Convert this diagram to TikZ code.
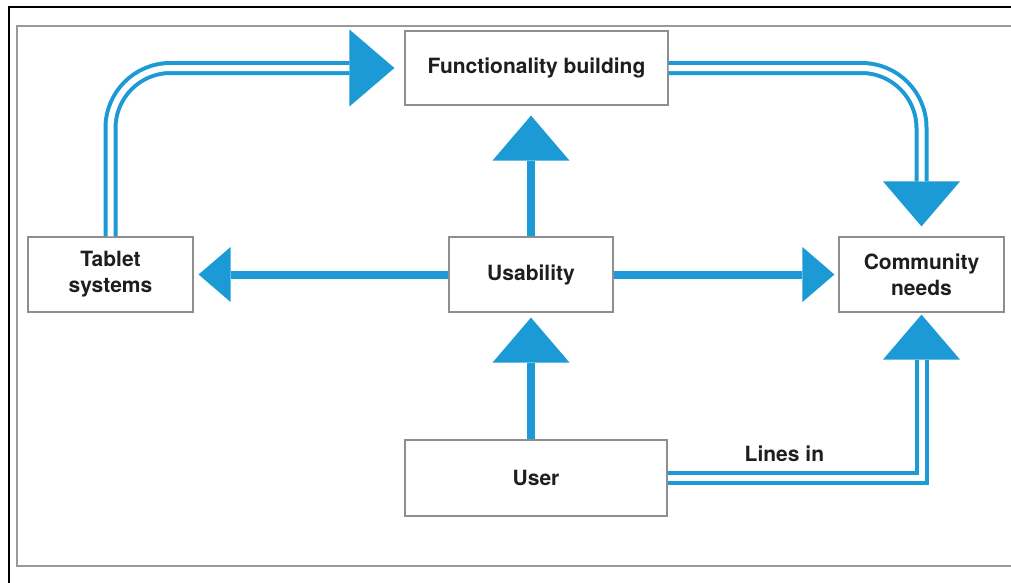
\documentclass[tikz,border=0pt]{standalone}
\usepackage{fontspec}
\setmainfont{TeX Gyre Heros}
\usetikzlibrary{arrows.meta}
\definecolor{flowblue}{HTML}{1C9AD6}
\definecolor{boxline}{HTML}{8E8E8E}
\definecolor{framegray}{HTML}{9A9A9A}
\definecolor{labeltext}{HTML}{1E1E1E}
\begin{document}
\begin{tikzpicture}[x=1pt, y=-1pt,
  box/.style={draw=boxline, line width=1.2pt, fill=white, align=center, inner sep=0pt,
    text=labeltext, font=\bfseries\fontsize{21}{26}\selectfont},
  single/.style={draw=flowblue, line width=8pt},
  guide/.style={draw=flowblue, line width=1pt},
  twin/.style={draw=flowblue, line width=4pt, double=white, double distance=6pt},
  bighead/.style={-{Triangle[width=77pt, length=45pt, line width=0pt]}},
  smallhead/.style={-{Triangle[width=55pt, length=32pt, line width=0pt]}},
  tag/.style={text=labeltext, inner sep=0pt, font=\bfseries\fontsize{21}{26}\selectfont},
]
\useasboundingbox (0,0) rectangle (1011,582);
\clip (0,0) rectangle (1011,582);
\fill[white] (0,0) rectangle (1011,582);

% page frames
\draw[black, line width=2pt] (9,590) -- (9,6.5) -- (1020,6.5);
\draw[framegray, line width=2pt] (1020,26) -- (16.5,26) -- (16.5,566) -- (1020,566);

% boxes
\node[box, minimum width=263pt, minimum height=74pt] (fb)  at (536.5,68)  {Functionality building};
\node[box, minimum width=165pt, minimum height=75pt] (tab) at (110.5,274.5) {Tablet\\systems};
\node[box, minimum width=164pt, minimum height=75pt] (use) at (531,274.5)   {Usability};
\node[box, minimum width=165pt, minimum height=75pt] (com) at (921.5,274.5) {Community\\needs};
\node[box, minimum width=262pt, minimum height=76pt] (usr) at (536,478)     {User};

% double-line connectors: tip drawn on a guide path, twin line laid over it
\draw[guide, bighead, shorten >=10pt, rounded corners=60pt] (tab.north) |- (fb.west);
\draw[twin, shorten >=55pt, rounded corners=60pt] (tab.north) |- (fb.west);

\draw[guide, bighead, shorten >=10pt, rounded corners=60pt] (fb.east) -| (com.north);
\draw[twin, shorten >=55pt, rounded corners=60pt] (fb.east) -| (com.north);

\draw[guide, bighead, shorten >=2pt] (usr.east) -| node[tag, pos=0.23, yshift=24pt] (lin) {Lines in} (com.south);
\draw[twin, shorten >=47pt] (usr.east) -| (com.south);

% single-line connectors
\draw[single, bighead, shorten >=10pt] (use.north) -- (use.north |- fb.south);
\draw[single, bighead, shorten >=5pt] (usr.north -| use.south) -- (use.south);
\draw[single, smallhead, shorten >=5pt] (use.west) -- (tab.east);
\draw[single, smallhead, shorten >=4pt] (use.east) -- (com.west);
\end{tikzpicture}
\end{document}
